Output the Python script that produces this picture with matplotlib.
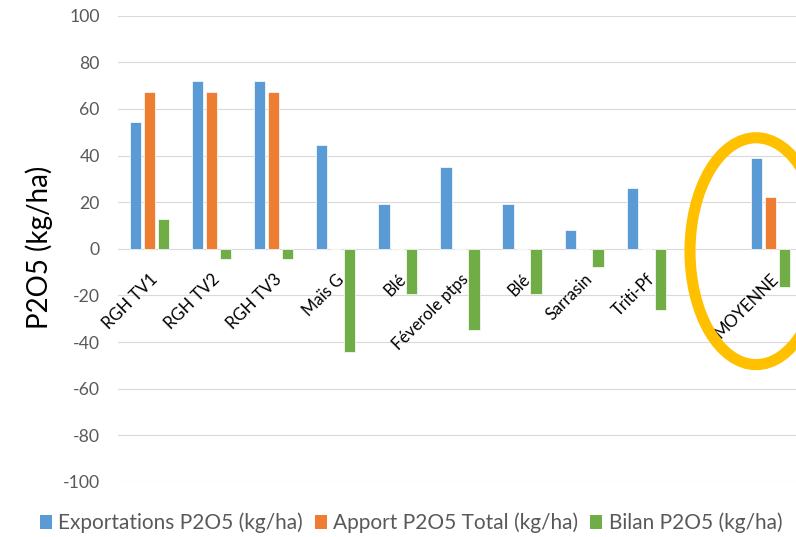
import numpy as np
import matplotlib

matplotlib.use("Agg")
import matplotlib.pyplot as plt
from matplotlib.patches import Ellipse, Patch

plt.rcParams["font.family"] = ["Lato", "DejaVu Sans"]
plt.rcParams["axes.unicode_minus"] = False

CATEGORIES = ["RGH TV1", "RGH TV2", "RGH TV3", "Maïs G", "Blé", "Féverole ptps",
              "Blé", "Sarrasin", "Triti-Pf", "", "MOYENNE"]
EXPORT = [54.6, 72.1, 72.1, 44.4, 19.3, 35.0, 19.3, 7.9, 26.3, np.nan, 38.9]
APPORT = [67.4, 67.4, 67.4, 0, 0, 0, 0, 0, 0, np.nan, 22.4]
BILAN = [12.7, -4.3, -4.3, -44.4, -19.4, -34.9, -19.4, -7.7, -26.3, np.nan, -16.4]
SERIES = ["Exportations P2O5 (kg/ha)", "Apport P2O5 Total (kg/ha)", "Bilan P2O5 (kg/ha)"]
COLORS = ["#5B9BD5", "#ED7D31", "#70AD47"]
YTICKS = [100, 80, 60, 40, 20, 0, -20, -40, -60, -80, -100]

W, H = 796, 537
fig = plt.figure(figsize=(W / 100, H / 100), dpi=100)
ax = fig.add_axes([118.45 / W, 55 / H, 683 / W, 466.3 / H])

x = np.arange(len(CATEGORIES))
bw, step = 0.182, 0.225
for k, (vals, col) in enumerate(zip((EXPORT, APPORT, BILAN), COLORS)):
    ax.bar(x + (k - 1) * step, vals, bw, color=col, edgecolor="white", linewidth=0.5, zorder=3)

ax.set_xlim(-0.5, len(CATEGORIES) - 0.5)
ax.set_ylim(-100, 100)
ax.set_yticks(YTICKS)
ax.tick_params(axis="y", length=0, pad=13.5, labelsize=12.7, labelcolor="#595959")
ax.set_xticks([])
ax.grid(axis="y", color="#D9D9D9", linewidth=0.8, zorder=0)
for s in ax.spines.values():
    s.set_visible(False)

# category labels sit just under the zero line, rotated like Excel does
for i, lab in enumerate(CATEGORIES):
    ax.annotate(lab, (i, 0), xytext=(0, -16), textcoords="offset points",
                rotation=45, ha="right", va="top", rotation_mode="anchor",
                fontsize=12, color="black")

fig.text(39 / W, 1 - 247 / H, "P2O5 (kg/ha)", rotation=90, ha="center", va="center",
         fontsize=20, color="black")

ell = Ellipse((9.77, -1), 2.13, 97.3, fill=False, edgecolor="#FFC000", linewidth=8,
              clip_on=False, zorder=5)
ax.add_patch(ell)

handles = [Patch(facecolor=c, edgecolor="none") for c in COLORS]
fig.legend(handles, SERIES, loc="center", bbox_to_anchor=(411 / W, 1 - 523 / H), ncol=3,
           frameon=False, fontsize=15, labelcolor="#595959", handlelength=0.6,
           handleheight=0.6, handletextpad=0.3, columnspacing=0.55, borderaxespad=0)

fig.savefig("out.png", dpi=100)
